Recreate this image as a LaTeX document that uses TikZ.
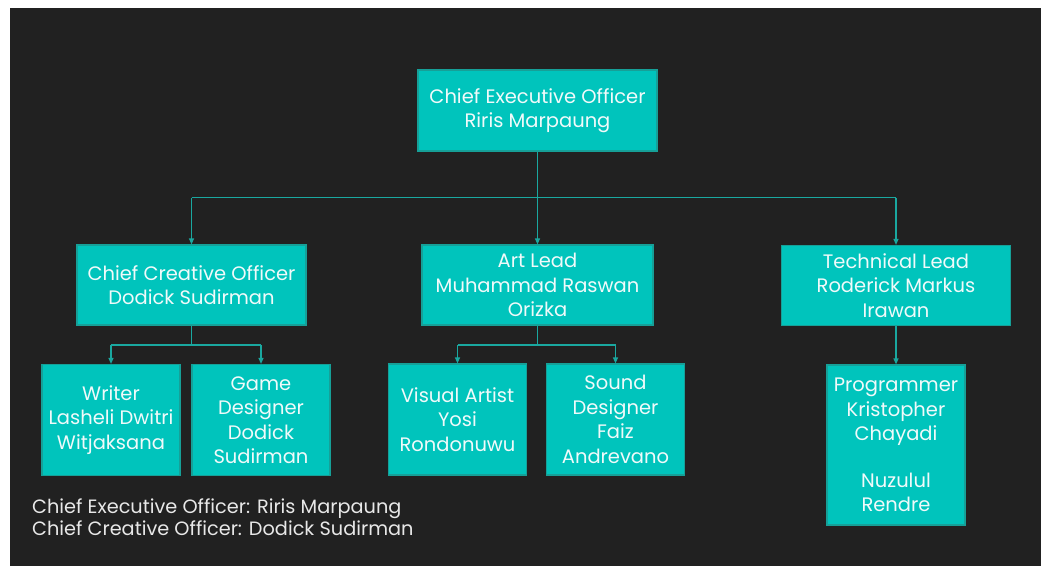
\documentclass[tikz,border=0pt]{standalone}
\usepackage{fontspec}
\setmainfont{Poppins}
\usetikzlibrary{arrows.meta}
\definecolor{bgdark}{RGB}{33,33,33}
\definecolor{boxfill}{RGB}{0,196,188}
\definecolor{boxline}{RGB}{22,160,152}
\definecolor{connline}{RGB}{26,168,160}
\definecolor{boxtext}{RGB}{240,250,250}
\definecolor{notetext}{RGB}{232,232,232}
\tikzset{
  orgbox/.style={draw=boxline, line width=1.2pt, fill=boxfill, text=boxtext,
    align=center, inner sep=0pt, font=\fontsize{19.5}{24.5}\selectfont},
  conn/.style={draw=connline, line width=1.2pt},
  arr/.style={conn, -{Triangle[width=5pt,length=6pt]}},
  note/.style={text=notetext, anchor=base west, inner sep=0pt, font=\fontsize{19.3}{22}\selectfont}
}
\begin{document}
\begin{tikzpicture}[x=1pt,y=-1pt]
\useasboundingbox (0,0) rectangle (1041,566);
\fill[white] (0,0) rectangle (1041,566);
\fill[bgdark] (10,8) rectangle (1041,566);

\node[orgbox, minimum width=239pt, minimum height=81pt] (ceo) at (537.5,110.5) {Chief Executive Officer\\Riris Marpaung};
\node[orgbox, minimum width=229pt, minimum height=80pt] (cco) at (191.5,285) {Chief Creative Officer\\Dodick Sudirman};
\node[orgbox, minimum width=231pt, minimum height=80pt] (art) at (537.5,285) {Art Lead\\Muhammad Raswan\\Orizka};
\node[orgbox, minimum width=229pt, minimum height=80pt] (tech) at (896,285.5) {Technical Lead\\Roderick Markus\\Irawan};

\node[orgbox, minimum width=138pt, minimum height=111pt] (writer) at (111,420) {Writer\\Lasheli Dwitri\\Witjaksana};
\node[orgbox, minimum width=138pt, minimum height=111pt] (game) at (261,420) {Game\\Designer\\Dodick\\Sudirman};
\node[orgbox, minimum width=138pt, minimum height=111pt] (visual) at (457.5,419.5) {Visual Artist\\Yosi\\Rondonuwu};
\node[orgbox, minimum width=138pt, minimum height=111pt] (sound) at (615.5,419.5) {Sound\\Designer\\Faiz\\Andrevano};
\node[orgbox, minimum width=138pt, minimum height=160pt] (prog) at (896,445) {Programmer\\Kristopher\\Chayadi\\[22pt]Nuzulul\\Rendre};

\coordinate (j1) at (537.5,197.5);
\coordinate (j1l) at (191.5,197.5);
\coordinate (j1r) at (896,197.5);
\draw[conn] (ceo.south) -- (j1);
\draw[conn] (j1l) -- (j1r);
\draw[arr] (j1l) -- (cco.north);
\draw[arr] (j1) -- (art.north);
\draw[arr] (j1r) -- (tech.north);

\coordinate (j2) at (191.5,345);
\coordinate (j2l) at (111,345);
\coordinate (j2r) at (261,345);
\draw[conn] (cco.south) -- (j2);
\draw[conn] (j2l) -- (j2r);
\draw[arr] (j2l) -- (writer.north);
\draw[arr] (j2r) -- (game.north);

\coordinate (j3) at (537.5,345);
\coordinate (j3l) at (457.5,345);
\coordinate (j3r) at (615.5,345);
\draw[conn] (art.south) -- (j3);
\draw[conn] (j3l) -- (j3r);
\draw[arr] (j3l) -- (visual.north);
\draw[arr] (j3r) -- (sound.north);

\draw[arr] (tech.south) -- (prog.north);

\node[note] (n1) at (32,513) {Chief Executive Officer: Riris Marpaung};
\node[note] (n2) at (32,535) {Chief Creative Officer: Dodick Sudirman};
\end{tikzpicture}
\end{document}
